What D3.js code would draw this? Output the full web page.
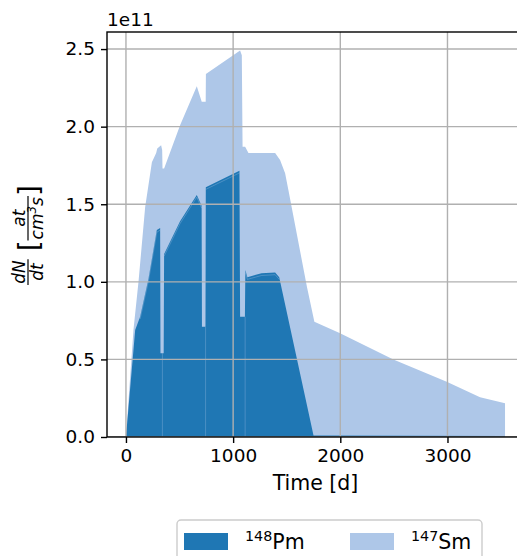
<!DOCTYPE html>
<html><head><meta charset="utf-8">
<script src="https://cdn.jsdelivr.net/npm/d3@7"></script>
<style>body{margin:0;background:#fff;} svg{display:block;font-family:"DejaVu Sans",sans-serif;}</style>
</head><body><svg id="c" width="517" height="556"></svg>
<script>
// ---- data (values in units of 1e11) ----
const smTime   = [0, 70, 117, 179, 242, 282, 292, 328, 338, 341, 356, 506, 599, 661, 707, 744, 746, 1065, 1081, 1088, 1112, 1143, 1392, 1438, 1485, 1516, 1688, 1758, 1998, 2495, 2993, 3304, 3537];
const smValues = [0, 0.69, 1.00, 1.48, 1.77, 1.83, 1.86, 1.88, 1.85, 1.73, 1.73, 2.01, 2.16, 2.26, 2.16, 2.16, 2.34, 2.49, 2.46, 1.87, 1.87, 1.83, 1.83, 1.785, 1.70, 1.59, 0.97, 0.743, 0.668, 0.50, 0.356, 0.256, 0.217];
const pmTime   = [0, 86, 132, 210, 288, 319, 322, 352, 356, 505, 661, 706, 709, 742, 745, 1059, 1065, 1110, 1114, 1133, 1265, 1392, 1430, 1750, 3537];
const pmValues = [0, 0.69, 0.775, 1.02, 1.334, 1.347, 0.54, 0.54, 1.18, 1.39, 1.56, 1.49, 0.71, 0.71, 1.61, 1.716, 0.775, 0.775, 1.076, 1.03, 1.055, 1.06, 1.03, 0.01, 0.006];
const cycleStarts = [0, 356, 745, 1114];
const cycleEnds   = [319, 706, 1059, 1430];
const seamTimes = [340, 743, 1112];
const xTicks = [0, 1000, 2000, 3000];
const yTicks = [0, 0.5, 1.0, 1.5, 2.0, 2.5];
const yExponent = "1e11";
const seriesNames = [{sup: "148", base: "Pm"}, {sup: "147", base: "Sm"}];
const colors = ["#1f77b4", "#aec7e8"];

// ---- layout ----
const m = {l: 107, t: 32, r: 524, b: 437};
const svg = d3.select("#c");
const x = d3.scaleLinear().domain([-176.9, 3714]).range([m.l, m.r]);
const y = d3.scaleLinear().domain([0, 2.61]).range([m.b, m.t]);

svg.append("defs").append("clipPath").attr("id", "clip")
  .append("rect").attr("x", m.l).attr("y", m.t).attr("width", m.r - m.l).attr("height", m.b - m.t);
const plot = svg.append("g").attr("clip-path", "url(#clip)");

const sm = smTime.map((t, i) => [t, smValues[i]]);
const pm = pmTime.map((t, i) => [t, pmValues[i]]);
const area = d3.area().x(d => x(d[0])).y0(y(0)).y1(d => y(d[1]));
plot.append("path").datum(sm).attr("d", area).attr("fill", colors[1]);
plot.append("path").datum(pm).attr("d", area).attr("fill", colors[0]);

// faint seams between irradiation cycles
const pmAt = t => { const i = d3.bisectRight(pmTime, t); return pmValues[Math.max(0, i - 1)]; };
plot.selectAll("line.seam").data(seamTimes).join("line").attr("class", "seam")
  .attr("x1", d => x(d)).attr("x2", d => x(d)).attr("y1", y(0)).attr("y2", d => y(pmAt(d)))
  .attr("stroke", colors[1]).attr("stroke-opacity", 0.3).attr("stroke-width", 1);
// faint inner edge along the top of each cycle
const topLine = d3.line().x(d => x(d[0])).y(d => y(d[1]) + 2.2);
cycleStarts.forEach((s, i) => {
  const seg = pm.filter(d => d[0] >= s && d[0] <= cycleEnds[i] && (i > 0 || d[0] >= 132));
  plot.append("path").datum(seg).attr("d", topLine).attr("fill", "none")
    .attr("stroke", colors[1]).attr("stroke-opacity", 0.35).attr("stroke-width", 0.9);
});

// grid on top
const grid = svg.append("g").attr("clip-path", "url(#clip)");
grid.selectAll("line.gx").data(xTicks).join("line")
  .attr("x1", d => x(d)).attr("x2", d => x(d)).attr("y1", m.t).attr("y2", m.b)
  .attr("stroke", "#b0b0b0").attr("stroke-width", 1.4);
grid.selectAll("line.gy").data(yTicks).join("line")
  .attr("y1", d => y(d)).attr("y2", d => y(d)).attr("x1", m.l).attr("x2", m.r)
  .attr("stroke", "#b0b0b0").attr("stroke-width", 1.4);

// axes
const ax = svg.append("g").attr("transform", `translate(0,${m.b})`)
  .call(d3.axisBottom(x).tickValues(xTicks).tickFormat(d3.format("d")).tickSize(6).tickPadding(6));
const ay = svg.append("g").attr("transform", `translate(${m.l},0)`)
  .call(d3.axisLeft(y).tickValues(yTicks).tickFormat(d3.format(".1f")).tickSize(6).tickPadding(6));
[ax, ay].forEach(g => {
  g.select(".domain").remove();
  g.attr("font-family", "DejaVu Sans").attr("font-size", 18.5);
  g.selectAll("line").attr("stroke", "#000").attr("stroke-width", 1.4);
  g.selectAll("text").attr("fill", "#000");
});
// spines
svg.append("rect").attr("x", m.l).attr("y", m.t).attr("width", m.r - m.l).attr("height", m.b - m.t)
  .attr("fill", "none").attr("stroke", "#000").attr("stroke-width", 1.4);

// offset text
svg.append("text").attr("x", m.l).attr("y", 26).attr("font-size", 18.5).text(yExponent);

// x label
svg.append("text").attr("x", (m.l + m.r) / 2).attr("y", 490).attr("text-anchor", "middle")
  .attr("font-size", 20.5).text("Time [d]");

// y label (math): dN/dt [ at / cm^3 s ]
const yl = svg.append("g").attr("transform", "translate(27.5,235) rotate(-90)");
const fs = 17;
function frac(num, den) {
  const g = yl.append("g");
  const n = g.append("text").attr("font-style", "italic").attr("font-size", fs).attr("text-anchor", "middle").attr("y", -3);
  num.forEach(p => n.append("tspan").attr("font-size", p.sup ? fs * 0.7 : fs).attr("dy", p.sup ? -6 : 0).text(p.t));
  const d = g.append("text").attr("font-style", "italic").attr("font-size", fs).attr("text-anchor", "middle").attr("y", 15);
  den.forEach((p, i) => {
    const prevSup = i > 0 && den[i - 1].sup;
    d.append("tspan").attr("font-size", p.sup ? fs * 0.7 : fs).attr("dy", p.sup ? -6.5 : (prevSup ? 6.5 : 0)).text(p.t);
  });
  const w = Math.max(n.node().getComputedTextLength(), d.node().getComputedTextLength()) + 2;
  g.append("line").attr("x1", -w / 2).attr("x2", w / 2).attr("y1", 0.5).attr("y2", 0.5).attr("stroke", "#000").attr("stroke-width", 1.2);
  return {g, w};
}
function bracket(ch) {
  const t = yl.append("text").attr("font-size", 28).attr("y", 11).text(ch);
  return {g: t, w: t.node().getComputedTextLength()};
}
const parts = [
  frac([{t: "dN"}], [{t: "dt"}]),
  {gap: 8},
  bracket("["),
  frac([{t: "at"}], [{t: "cm"}, {t: "3", sup: true}, {t: "s"}]),
  bracket("]")
];
let total = 0; parts.forEach(p => total += p.gap || p.w);
let cur = -total / 2;
parts.forEach(p => {
  if (p.gap) { cur += p.gap; return; }
  if (p.g.node().tagName === "g") p.g.attr("transform", `translate(${cur + p.w / 2},0)`);
  else p.g.attr("x", cur);
  cur += p.w;
});

// legend
const lg = svg.append("g");
lg.append("rect").attr("x", 177).attr("y", 520).attr("width", 305).attr("height", 60).attr("rx", 4)
  .attr("fill", "#fff").attr("fill-opacity", 0.8).attr("stroke", "#cccccc").attr("stroke-width", 1.4);
const legX = [184, 350];
seriesNames.forEach((s, i) => {
  lg.append("rect").attr("x", legX[i]).attr("y", 533).attr("width", 44).attr("height", 17).attr("fill", colors[i]);
  const t = lg.append("text").attr("x", legX[i] + 61).attr("y", 549).attr("font-size", 20.5);
  t.append("tspan").attr("font-size", 14.3).attr("dy", -8).text(s.sup);
  t.append("tspan").attr("dy", 8).text(s.base);
});
</script></body></html>
